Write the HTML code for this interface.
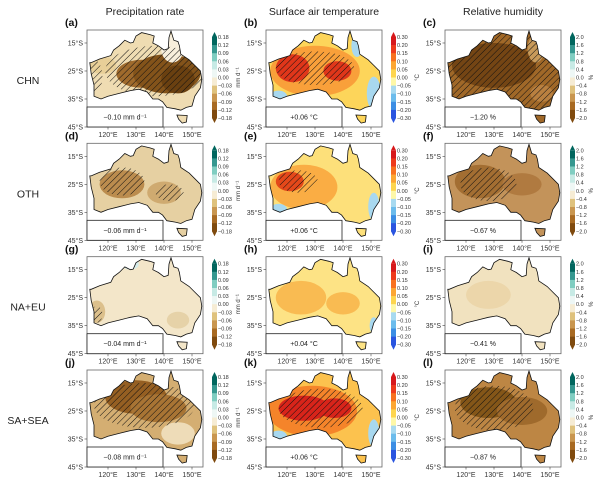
<!DOCTYPE html>
<html><head><meta charset="utf-8"><style>
body{margin:0;background:#fff;}
svg{display:block;font-family:"Liberation Sans",sans-serif;}
</style></head><body>
<svg id="fig" width="600" height="482" viewBox="0 0 600 482">
<defs>
<pattern id="hatch" patternUnits="userSpaceOnUse" width="4.5" height="4.5" patternTransform="rotate(45)">
<line x1="0" y1="0" x2="0" y2="4.5" stroke="#111" stroke-width="1"/>
</pattern>
</defs>
</svg>
<script>
const colTitles=["Precipitation rate","Surface air temperature","Relative humidity"];
const rowLabels=["CHN","OTH","NA+EU","SA+SEA"];
const panelLetters=["a","b","c","d","e","f","g","h","i","j","k","l"];
const insetValues=["\u22120.10 mm d\u207B\u00B9","+0.06 \u00B0C","\u22121.20 %","\u22120.06 mm d\u207B\u00B9","+0.06 \u00B0C","\u22120.67 %","\u22120.04 mm d\u207B\u00B9","+0.04 \u00B0C","\u22120.41 %","\u22120.08 mm d\u207B\u00B9","+0.06 \u00B0C","\u22120.87 %"];
const prTicks=["0.18","0.12","0.09","0.06","0.03","0.00","\u22120.03","\u22120.06","\u22120.09","\u22120.12","\u22120.18"];
const prColors=["#01665e","#35978f","#80cdc1","#c7eae5","#eef7f5","#f6ecd4","#dfc27d","#c9964f","#a86a22","#7f4a0e"];
const taTicks=["0.30","0.20","0.15","0.10","0.05","0.00","\u22120.05","\u22120.10","\u22120.15","\u22120.20","\u22120.30"];
const taColors=["#d7191c","#ee3a1c","#f8711f","#fca633","#fdd54e","#fef8a8","#a8daf0","#6cbcec","#3c8ee4","#2a55e0"];
const rhTicks=["2.0","1.6","1.2","0.8","0.4","0.0","\u22120.4","\u22120.8","\u22121.2","\u22121.6","\u22122.0"];
const rhColors=["#01665e","#35978f","#80cdc1","#c7eae5","#eef7f5","#f6ecd4","#dfc27d","#c9964f","#a86a22","#7f4a0e"];
const latTicks=[15,25,35,45];
const lonTicks=[120,130,140,150];
const bases=["#efdcb2","#fdd55a","#a06828","#e6d0a2","#fde07a","#c3935a","#f3e6c9","#fde385","#f1e2bf","#d4ae72","#fcc24e","#bd8644"];
const blobs=[
 [[118,-23,5,3,"#e8cf98"],[132,-26,9,5,"#9f6a2c"],[141,-26,12,7,"#83531a"],[145,-28,6,5,"#6a4010"],[143,-17,4,5,"#f8efdc"]],
 [[130,-25,16,9,"#f9a03a"],[122,-24,6,5,"#e0361a"],[138,-25,5,3.5,"#e0361a"],[151,-33,2.5,6,"#a8d8ef"],[117,-34,3,2,"#a8d8ef"],[145,-16,2,4,"#a8d8ef"]],
 [[130,-23,15,8,"#744514"],[145,-17,3,5,"#c89a5a"],[147,-33,4,3,"#b98040"]],
 [[125,-25,8,5,"#bb8c4e"],[140,-28,6,4,"#cfaa70"]],
 [[126,-26,12,8,"#faad44"],[121,-24,5,3.5,"#e4481a"],[151,-33,2,5,"#a8d8ef"],[117,-34,3,2,"#a8d8ef"]],
 [[125,-24,9,6,"#a36e32"],[140,-25,7,4,"#b07a40"]],
 [[116,-30,3,4,"#dcc08c"],[145,-33,4,3,"#e6d2a8"],[128,-13,3,2,"#d6ecea"]],
 [[125,-25,9,6,"#f9bb52"],[140,-27,6,4,"#f9bb52"],[151,-35,1.5,3,"#a8d8ef"]],
 [[128,-24,8,5,"#ecd6aa"]],
 [[130,-20,11,6,"#955f22"],[138,-24,10,5,"#a87434"],[145,-33,6,4,"#eedcb8"]],
 [[129,-25,16,9,"#f5842a"],[126,-24,9,4.5,"#d8241a"],[137,-24,6,3.5,"#d8241a"],[117,-34,3,2,"#a8d8ef"],[151,-33,2,5,"#a8d8ef"]],
 [[128,-22,10,5.5,"#845618"],[140,-25,9,5,"#9f6a2c"]]
];
const hatches=[
 [[137,-25,18,9],[115,-27,3,6]],[[130,-24,14,6]],[[133,-25,25,16]],
 [[125,-24,8,5],[142,-28,5,3]],[[124,-24,7,4]],[[128,-25,10,6]],
 [[116,-31,2,3]],[],[],
 [[133,-23,18,8]],[[132,-24,15,7]],[[130,-24,14,8]]
];
const aus=[[113.5,-22],[114,-26],[115,-30],[115,-34],[117.5,-35],[120,-34],[124,-33],[128,-32],[131,-31.5],[134,-32.5],[136,-35],[138,-35],[139.5,-36],[141,-38],[144,-38.5],[146,-39],[148,-38],[150,-37.5],[151,-34],[153,-31],[153.5,-28],[153,-25],[151,-23],[149,-21],[146,-19],[145.5,-16],[145,-14.5],[143.5,-14],[142.5,-10.7],[141.8,-13],[141.5,-17],[140,-17.5],[138,-16],[136,-15],[136.5,-12.5],[135,-12],[132,-11.3],[130,-12.5],[129,-14.8],[128,-15],[126,-14],[124,-16],[122,-17.5],[121,-19.5],[117,-20.7],[114,-22]];
const tas=[[144.6,-40.7],[148.3,-40.9],[148,-43.2],[146.5,-43.6],[145.2,-42.2]];

const NS="http://www.w3.org/2000/svg";
const svg=document.getElementById("fig");
const colX=[87,266,445], rowY=[30,143.3,256.7,370], W=116, H=97, S=2.8;
function mk(tag,attrs,parent){const e=document.createElementNS(NS,tag);for(const k in attrs)e.setAttribute(k,attrs[k]);(parent||svg).appendChild(e);return e;}
function txt(s,attrs,parent){const e=mk("text",attrs,parent);e.textContent=s;return e;}
function px(c,lon){return colX[c]+(lon-112.5)*S;}
function py(r,lat){return rowY[r]+(-lat-10.36)*S;}
function poly(c,r,pts){return pts.map(p=>px(c,p[0]).toFixed(1)+","+py(r,p[1]).toFixed(1)).join(" ");}

colTitles.forEach((t,c)=>{
 const e=txt(t,{x:colX[c]+58,y:15,"text-anchor":"middle","font-size":"10.5",fill:"#222"});
 
 
});
rowLabels.forEach((t,r)=>{
 const e=txt(t,{x:28,y:rowY[r]+54,"text-anchor":"middle","font-size":"10.5",fill:"#222"});
 
 
});

for(let r=0;r<4;r++)for(let c=0;c<3;c++){
 const i=r*3+c;
 const g=mk("g",{});
 
 
 const x0=colX[c],y0=rowY[r];
 const cid="clip"+i;
 const cp=mk("clipPath",{id:cid},g);
 mk("polygon",{points:poly(c,r,aus)},cp);
 mk("polygon",{points:poly(c,r,tas)},cp);
 mk("rect",{x:x0,y:y0,width:W,height:H,fill:"#fff"},g);
 const land=mk("g",{"clip-path":"url(#"+cid+")"},g);
 mk("rect",{x:x0,y:y0,width:W,height:H,fill:bases[i]},land);
 blobs[i].forEach(b=>{
  const el=mk("ellipse",{cx:px(c,b[0]),cy:py(r,b[1]),rx:b[2]*S,ry:b[3]*S,fill:b[4]},land);
  
  
 });
 hatches[i].forEach(h=>{
  const el=mk("ellipse",{cx:px(c,h[0]),cy:py(r,h[1]),rx:h[2]*S,ry:h[3]*S,fill:"url(#hatch)"},land);
  
  
 });
 const coast=mk("polygon",{points:poly(c,r,aus),fill:"none",stroke:"#111","stroke-width":"0.8"},g);
 
 
 mk("polygon",{points:poly(c,r,tas),fill:"none",stroke:"#111","stroke-width":"0.8"},g);
 mk("rect",{x:x0,y:y0,width:W,height:H,fill:"none",stroke:"#666","stroke-width":"0.8"},g);
 const ib=mk("rect",{x:x0,y:y0+H-20,width:76,height:20,fill:"#fff",stroke:"#222","stroke-width":"0.8"},g);
 
 
 txt(insetValues[i],{x:x0+38,y:y0+H-7.5,"text-anchor":"middle","font-size":"7",fill:"#222"},g);
 latTicks.forEach(l=>{
  const y=py(r,-l);
  mk("line",{x1:x0-2.5,x2:x0,y1:y,y2:y,stroke:"#444","stroke-width":"0.6"},g);
  txt(l+"\u00B0S",{x:x0-4,y:y+2.5,"text-anchor":"end","font-size":"7",fill:"#333"},g);
 });
 lonTicks.forEach(l=>{
  const x=px(c,l);
  mk("line",{x1:x,x2:x,y1:y0+H,y2:y0+H+2.5,stroke:"#444","stroke-width":"0.6"},g);
  txt(l+"\u00B0E",{x:x,y:y0+H+10,"text-anchor":"middle","font-size":"7",fill:"#333"},g);
 });
 txt("("+panelLetters[i]+")",{x:x0-22,y:y0-4,"font-size":"10.5","font-weight":"bold",fill:"#111"},g);
 const ticks=[prTicks,taTicks,rhTicks][c], cols=[prColors,taColors,rhColors][c];
 const cb=mk("g",{},g);
 
 
 const cx=x0+125, ctop=y0+7, cbot=y0+88, n=cols.length, step=(cbot-ctop)/n;
 mk("polygon",{points:`${cx},${ctop} ${cx+5},${ctop} ${cx+2.5},${ctop-5}`,fill:cols[0]},cb);
 mk("polygon",{points:`${cx},${cbot} ${cx+5},${cbot} ${cx+2.5},${cbot+5}`,fill:cols[n-1]},cb);
 cols.forEach((col,k)=>mk("rect",{x:cx,y:ctop+k*step,width:5,height:step+0.3,fill:col},cb));
 ticks.forEach((t,k)=>txt(t,{x:cx+6,y:ctop+k*step+2,"font-size":"5.5",fill:"#333"},cb));
 const unit=["mm d\u207B\u00B9","\u00B0C","%"][c];
 const ux=[cx+28,cx+28,cx+23][c];
 txt(unit,{x:0,y:0,"font-size":"6",fill:"#333","text-anchor":"middle",transform:`translate(${ux},${(ctop+cbot)/2}) rotate(-90)`},cb);
}
</script>
</body></html>
